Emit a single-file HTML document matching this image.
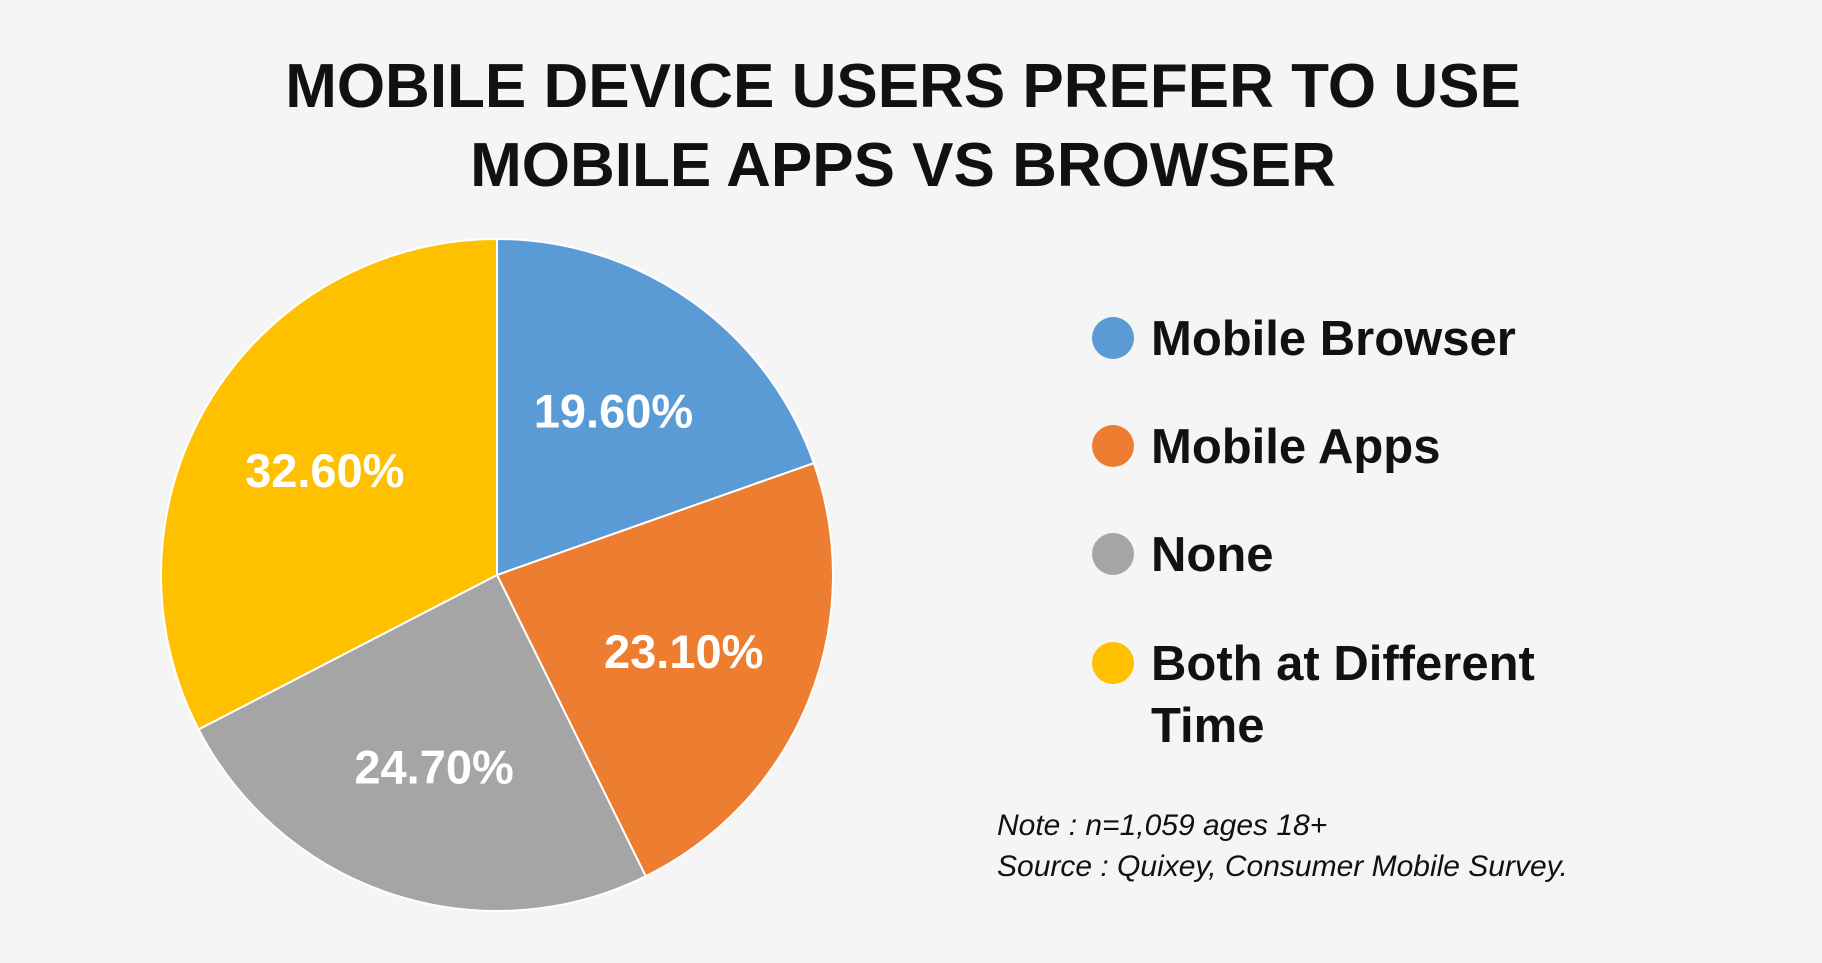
<!DOCTYPE html>
<html><head><meta charset="utf-8"><style>
html,body{margin:0;padding:0;background:#f5f5f5;}
svg{display:block;font-family:"Liberation Sans",sans-serif;}
</style></head><body>
<svg id="chart" width="1822" height="963" viewBox="0 0 1822 963" xmlns="http://www.w3.org/2000/svg">
<rect width="1822" height="963" fill="#f5f5f5"/>
<text x="903" y="107" text-anchor="middle" font-size="62" font-weight="bold" fill="#111">MOBILE DEVICE USERS PREFER TO USE</text>
<text x="903" y="186" text-anchor="middle" font-size="62" font-weight="bold" fill="#111">MOBILE APPS VS BROWSER</text>
<g id="slices"></g>
<g id="legend"></g>
<text x="997" y="835" font-size="30" font-style="italic" fill="#111">Note : n=1,059 ages 18+</text>
<text x="997" y="876" font-size="30" font-style="italic" fill="#111">Source : Quixey, Consumer Mobile Survey.</text>
</svg>
<script>
const categories = ["Mobile Browser","Mobile Apps","None","Both at Different Time"];
const values = [19.6, 23.1, 24.7, 32.6];
const valueLabels = ["19.60%","23.10%","24.70%","32.60%"];
const colors = ["#5b9bd5","#ed7d31","#a5a5a5","#ffc000"];
const NS="http://www.w3.org/2000/svg";
const cx=497, cy=575, r=336;
const total=values.reduce((a,b)=>a+b,0);
function pt(a,rr){return [cx+rr*Math.sin(a), cy-rr*Math.cos(a)];}
const g=document.getElementById('slices');
let a0=0;
values.forEach((v,i)=>{
  const a1=a0+v/total*2*Math.PI;
  const p0=pt(a0,r), p1=pt(a1,r);
  const large=(a1-a0)>Math.PI?1:0;
  const path=document.createElementNS(NS,'path');
  path.setAttribute('d',`M${cx},${cy} L${p0[0]},${p0[1]} A${r},${r} 0 ${large} 1 ${p1[0]},${p1[1]} Z`);
  path.setAttribute('fill',colors[i]);
  path.setAttribute('stroke','#ffffff');
  path.setAttribute('stroke-width','2');
  
  
  g.appendChild(path);
  const am=(a0+a1)/2, lp=pt(am,r*0.6);
  const t=document.createElementNS(NS,'text');
  t.setAttribute('x',lp[0]); t.setAttribute('y',lp[1]+17);
  t.setAttribute('text-anchor','middle'); t.setAttribute('font-size','47');
  t.setAttribute('font-weight','bold'); t.setAttribute('fill','#ffffff');
  t.textContent=valueLabels[i];
  
  
  g.appendChild(t);
  a0=a1;
});
const lg=document.getElementById('legend');
const ly=[338,446,554,663];
categories.forEach((c,i)=>{
  const grp=document.createElementNS(NS,'g');
  
  
  const ci=document.createElementNS(NS,'circle');
  ci.setAttribute('cx',1113); ci.setAttribute('cy',ly[i]); ci.setAttribute('r',21);
  ci.setAttribute('fill',colors[i]);
  grp.appendChild(ci);
  const words=c==="Both at Different Time"?["Both at Different","Time"]:[c];
  words.forEach((w,j)=>{
    const t=document.createElementNS(NS,'text');
    t.setAttribute('x',1151); t.setAttribute('y',ly[i]+17+j*62);
    t.setAttribute('font-size','49'); t.setAttribute('font-weight','bold'); t.setAttribute('fill','#111');
    t.textContent=w;
    grp.appendChild(t);
  });
  lg.appendChild(grp);
});
</script>
</body></html>
